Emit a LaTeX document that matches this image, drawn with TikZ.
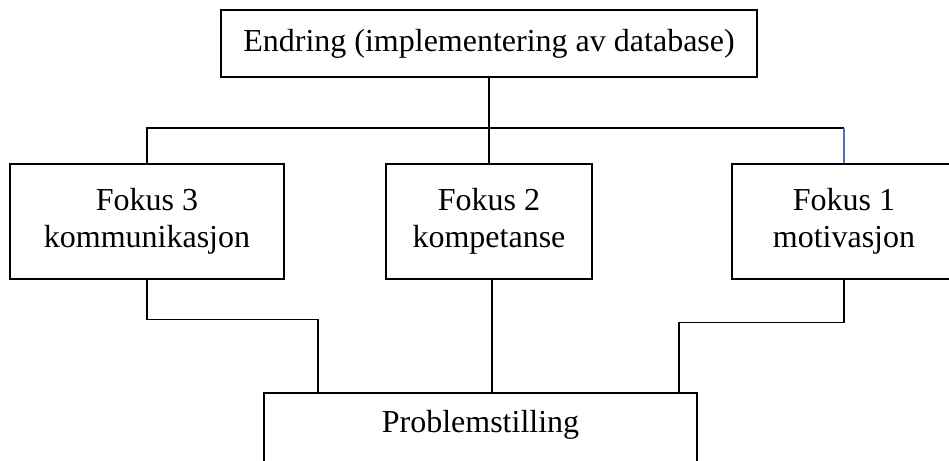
\documentclass[tikz,border=0pt]{standalone}
\usepackage{fontspec}
\setmainfont{Liberation Serif}
\usetikzlibrary{calc}
\definecolor{bluelink}{RGB}{68,114,196}
\begin{document}
\begin{tikzpicture}[x=1pt,y=-1pt,
  box/.style={draw,line width=1.6pt,inner sep=0pt,align=center,font=\fontsize{32}{37}\selectfont},
  link/.style={line width=1.2pt}]
  \useasboundingbox (0,0) rectangle (949,460);
  \clip (0,0) rectangle (949,460);
  \node[box,minimum width=536,minimum height=67] (endring) at (489,43.5) {Endring (implementering av database)};
  \node[box,minimum width=274,minimum height=115] (fokus3) at (147,221.5) {Fokus 3\\kommunikasjon};
  \node[box,minimum width=206,minimum height=115] (fokus2) at (489,221.5) {Fokus 2\\kompetanse};
  \node[box,minimum width=224,minimum height=115] (fokus1) at (844,221.5) {Fokus 1\\motivasjon};
  \node[box,minimum width=433,text height=40pt,text depth=60pt,anchor=north] (problem) at (480.5,392) {Problemstilling};
  \coordinate (bus) at (489,128); \coordinate (p3) at (318,392); \coordinate (p2) at (492,392); \coordinate (p1) at (679,392);
  \draw[link] (endring.south)--(fokus2.north);
  \draw[link] (fokus3.north) |- (bus) -- (bus -| fokus1.north);
  \draw[link,bluelink] (bus -| fokus1.north)--(fokus1.north);
  \draw[link] (fokus3.south) -- ++(0,40) -| (p3);
  \draw[link] (fokus2.south -| p2)--(p2);
  \draw[link] (fokus1.south) -- ++(0,43) -| (p1);
\end{tikzpicture}
\end{document}
